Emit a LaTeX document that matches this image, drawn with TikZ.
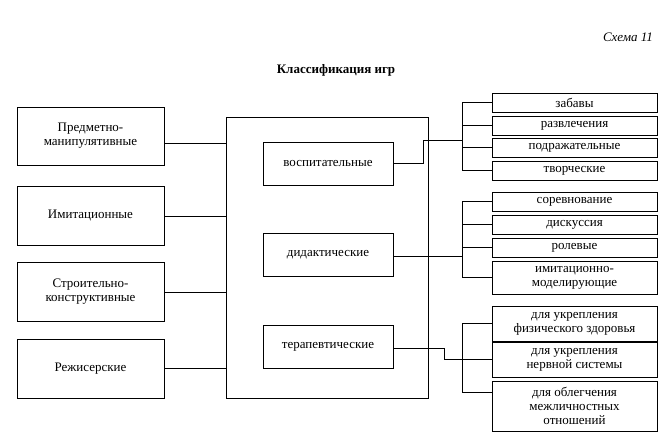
\documentclass[tikz,border=0pt]{standalone}
\usepackage{fontspec}
\setmainfont{Liberation Serif}
\begin{document}
\begin{tikzpicture}[x=1pt,y=-1pt,
  bx/.style={draw,line width=0.9pt,inner sep=0pt,align=center,font=\fontsize{13}{14}\selectfont},
  ln/.style={line width=0.6pt}]
\useasboundingbox (0,0) rectangle (672,447);
\node[font=\itshape\fontsize{13}{15}\selectfont] (sch) at (628,37) {Схема 11};
\node[font=\bfseries\fontsize{13}{15}\selectfont] (title) at (336,70) {Классификация игр};
% central
\node[draw,line width=0.9pt,minimum width=202,minimum height=281,inner sep=0] (c) at (327,257.5) {};
\node[bx,minimum width=130,minimum height=43] (v) at (328,163.5) {воспитательные};
\node[bx,minimum width=130,minimum height=43] (d) at (328,254.5) {дидактические};
\node[bx,minimum width=130,minimum height=43] (t) at (328,346.5) {терапевтические};
% left
\node[bx,minimum width=147,minimum height=58] (l1) at (90.5,136) {Предметно-\\манипулятивные};
\node[bx,minimum width=147,minimum height=59] (l2) at (90.5,215.5) {Имитационные};
\node[bx,minimum width=147,minimum height=59] (l3) at (90.5,291.5) {Строительно-\\конструктивные};
\node[bx,minimum width=147,minimum height=59] (l4) at (90.5,368.5) {Режисерские};
\foreach \n/\y in {l1/143,l2/216,l3/292,l4/368}
  \draw[ln] (\n.east |- 0,\y) -- (c.west |- 0,\y);
% right
\foreach \n/\y/\h/\t in {r1/102.5/19/забавы, r2/125.5/19/развлечения, r3/147.5/19/подражательные, r4/170.5/19/творческие,
  r5/201.5/19/соревнование, r6/224.5/19/дискуссия, r7/247.5/19/ролевые, r8/277.5/33/{имитационно-\\моделирующие},
  r9/323.5/35/{для укрепления\\физического здоровья}, r10/359.5/35/{для укрепления\\нервной системы}, r11/406/50/{для облегчения\\межличностных\\отношений}}
  \node[bx,minimum width=165,minimum height=\h] (\n) at (574.5,\y) {\t};
% buses
\coordinate (b1) at (462,102.5);
\coordinate (b2) at (462,201.5);
\coordinate (b3) at (462,323.5);
\draw[ln] (r1.west) -- (b1) |- (r4.west);
\draw[ln] (462,125.5) -- (r2.west); \draw[ln] (462,147.5) -- (r3.west);
\draw[ln] (r5.west) -- (b2) |- (r8.west);
\draw[ln] (462,224.5) -- (r6.west); \draw[ln] (462,247.5) -- (r7.west);
\draw[ln] (r9.west) -- (b3) |- (462,392) -- (r11.west |- 0,392);
\draw[ln] (462,359.5) -- (r10.west);
% connectors
\draw[ln] (v.east |- 0,163) -- (423,163) -- (423,140) -- (462,140);
\draw[ln] (d.east |- 0,256) -- (462,256);
\draw[ln] (t.east |- 0,348) -- (444,348) -- (444,359.5) -- (462,359.5);
\end{tikzpicture}
\end{document}
